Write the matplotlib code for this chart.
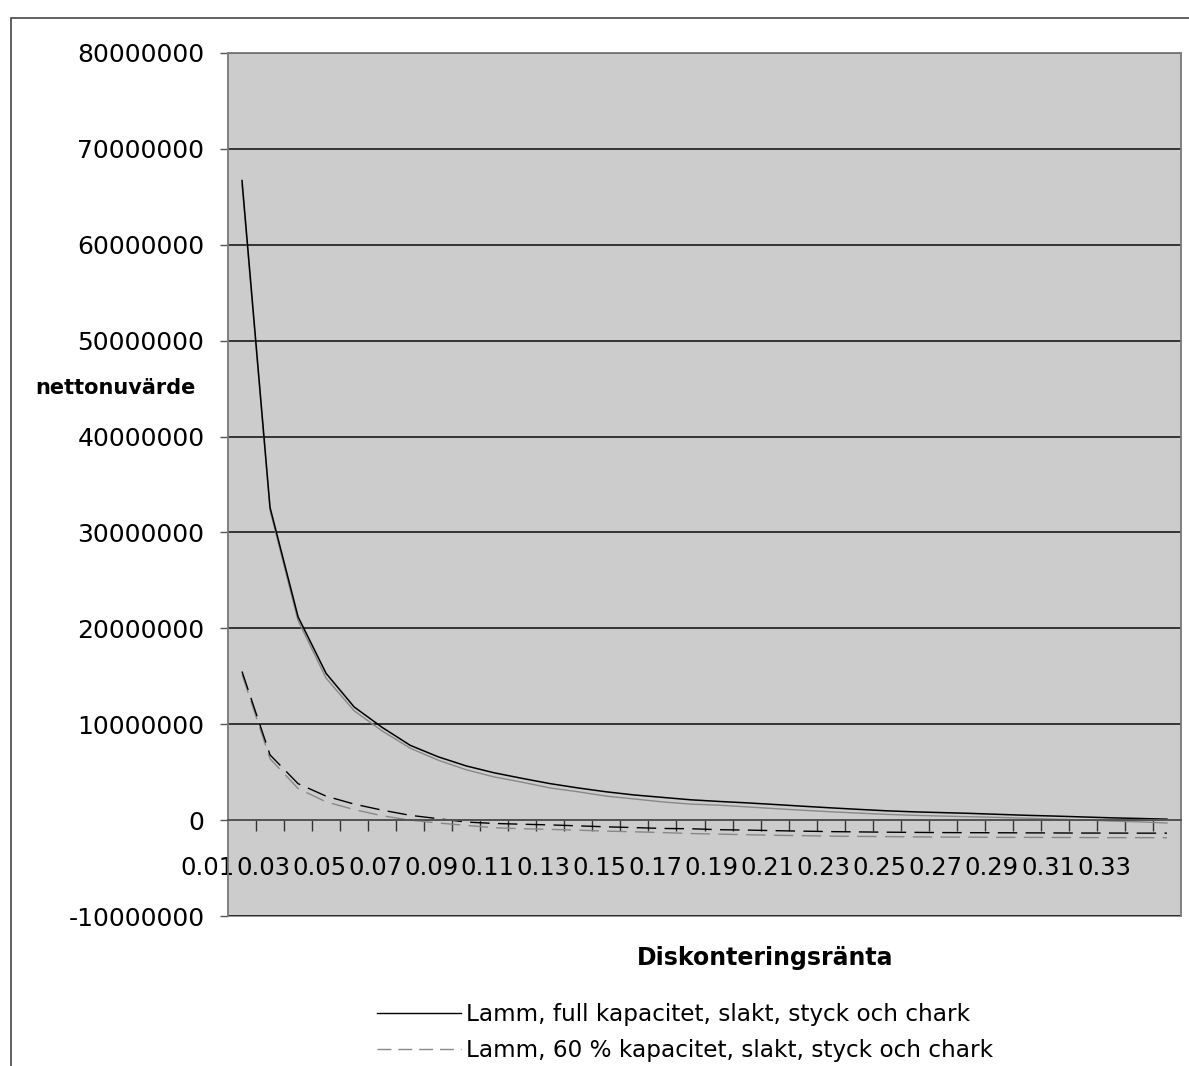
import numpy as np
import matplotlib.pyplot as plt
from matplotlib.lines import Line2D
from matplotlib.patches import Rectangle
from matplotlib.transforms import ScaledTranslation

# discount rates 0.01 .. 0.34
rates = [f"{r / 100:.2f}" for r in range(1, 35)]

# net present value, millions SEK
full_black = [66.7, 32.6, 21.2, 15.3, 11.8, 9.67, 7.8, 6.6, 5.65, 4.93,
              4.35, 3.8, 3.35, 2.95, 2.62, 2.37, 2.12, 1.95, 1.8, 1.63,
              1.45, 1.28, 1.12, 0.97, 0.86, 0.78, 0.7, 0.6, 0.5, 0.42,
              0.33, 0.24, 0.17, 0.1]
full_grey = [66.3, 32.3, 20.8, 14.8, 11.4, 9.3, 7.5, 6.25, 5.25, 4.5,
             3.95, 3.35, 2.95, 2.5, 2.2, 1.9, 1.67, 1.56, 1.38, 1.2,
             1.03, 0.87, 0.73, 0.6, 0.5, 0.42, 0.35, 0.28, 0.2, 0.1,
             0.02, -0.1, -0.18, -0.3]
sixty_black = [15.5, 6.8, 3.8, 2.5, 1.67, 1.04, 0.5, 0.15, -0.2, -0.35,
               -0.43, -0.5, -0.6, -0.7, -0.78, -0.87, -0.9, -1.0, -1.04, -1.1,
               -1.15, -1.2, -1.23, -1.26, -1.28, -1.3, -1.31, -1.32, -1.33, -1.34,
               -1.35, -1.35, -1.36, -1.36]
sixty_grey = [15.2, 6.4, 3.3, 1.9, 1.1, 0.45, 0.0, -0.3, -0.55, -0.8,
              -0.9, -0.97, -1.05, -1.15, -1.22, -1.3, -1.4, -1.46, -1.52, -1.58,
              -1.62, -1.67, -1.7, -1.72, -1.75, -1.77, -1.78, -1.8, -1.8, -1.81,
              -1.82, -1.83, -1.83, -1.84]

y_ticks = [-10000000, 0, 10000000, 20000000, 30000000, 40000000,
           50000000, 60000000, 70000000, 80000000]
y_labels = [str(v) for v in y_ticks]

labels = ["Lamm, full kapacitet, slakt, styck och chark",
          "Lamm, 60 % kapacitet, slakt, styck och chark"]

W, H = 1189, 1066
fig = plt.figure(figsize=(W / 100, H / 100), dpi=100)
ax = fig.add_axes([228 / W, 1 - 916 / H, (1181 - 228) / W, (916 - 53) / H])
ax.set_facecolor('#cccccc')

x = np.arange(len(rates))
M = 1e6
grey = '#888888'
ax.plot(x, np.array(full_grey) * M, color=grey, lw=1.0)
ax.plot(x, np.array(full_black) * M, color='black', lw=1.1)
ax.plot(x, np.array(sixty_grey) * M, color=grey, lw=1.0, dashes=(14, 6))
ax.plot(x, np.array(sixty_black) * M, color='black', lw=1.0, dashes=(14, 6))

ax.set_xlim(-0.5, len(rates) - 0.5)
ax.set_ylim(y_ticks[0], y_ticks[-1])

# y axis
ax.set_yticks(y_ticks)
ax.set_yticklabels(y_labels, fontsize=18)
ax.tick_params(axis='y', direction='out', length=6, width=1, color='#555555', pad=11)
ax.yaxis.grid(True, color='#1a1a1a', lw=1.2)
ax.set_axisbelow(True)

# category axis crosses at zero
ax.spines['bottom'].set_position(('data', 0))
ax.spines['bottom'].set_color('#555555')
ax.spines['bottom'].set_linewidth(1.4)
ax.set_xticks(np.arange(0.5, len(rates) - 1))
ax.set_xticklabels([])
ax.tick_params(axis='x', which='major', direction='out', length=8, width=1, color='#333333')
ax.set_xticks(x[::2], minor=True)
ax.set_xticklabels(rates[::2], minor=True, fontsize=17.5)
ax.tick_params(axis='x', which='minor', length=0, pad=26)
# the category labels sit shifted left, run together
shift = ScaledTranslation(-35 / 100, 0, fig.dpi_scale_trans)
for lab in ax.get_xticklabels(minor=True):
    lab.set_transform(lab.get_transform() + shift)

for s in ['left', 'right', 'top']:
    ax.spines[s].set_color('#808080')
    ax.spines[s].set_linewidth(1.2)

# plot area bottom border
ax.add_patch(Rectangle((0, 0), 1, 1, transform=ax.transAxes, fill=False,
                       edgecolor='#808080', lw=1.2, zorder=0.5, clip_on=False))

fig.text(115 / W, 1 - 388 / H, "nettonuvärde", fontsize=15, fontweight='bold',
         ha='center', va='center')
fig.text(765 / W, 1 - 958 / H, "Diskonteringsränta", fontsize=17, fontweight='bold',
         ha='center', va='center')

# chart border
fig.add_artist(Rectangle((11 / W, -0.1), 1.2, 1 - 18 / H + 0.1, transform=fig.transFigure,
                         fill=False, edgecolor='#444444', lw=1.2))

handles = [Line2D([], [], color='black', lw=1.0),
           Line2D([], [], color=grey, lw=1.0, dashes=(10, 5))]
fig.legend(handles, labels, loc='upper left', bbox_to_anchor=(377 / W, 1 - 1003 / H),
           frameon=False, fontsize=16.7, handlelength=3.6, handletextpad=0.22,
           labelspacing=0.55, borderpad=0, borderaxespad=0)

fig.savefig('out.png', dpi=100)
